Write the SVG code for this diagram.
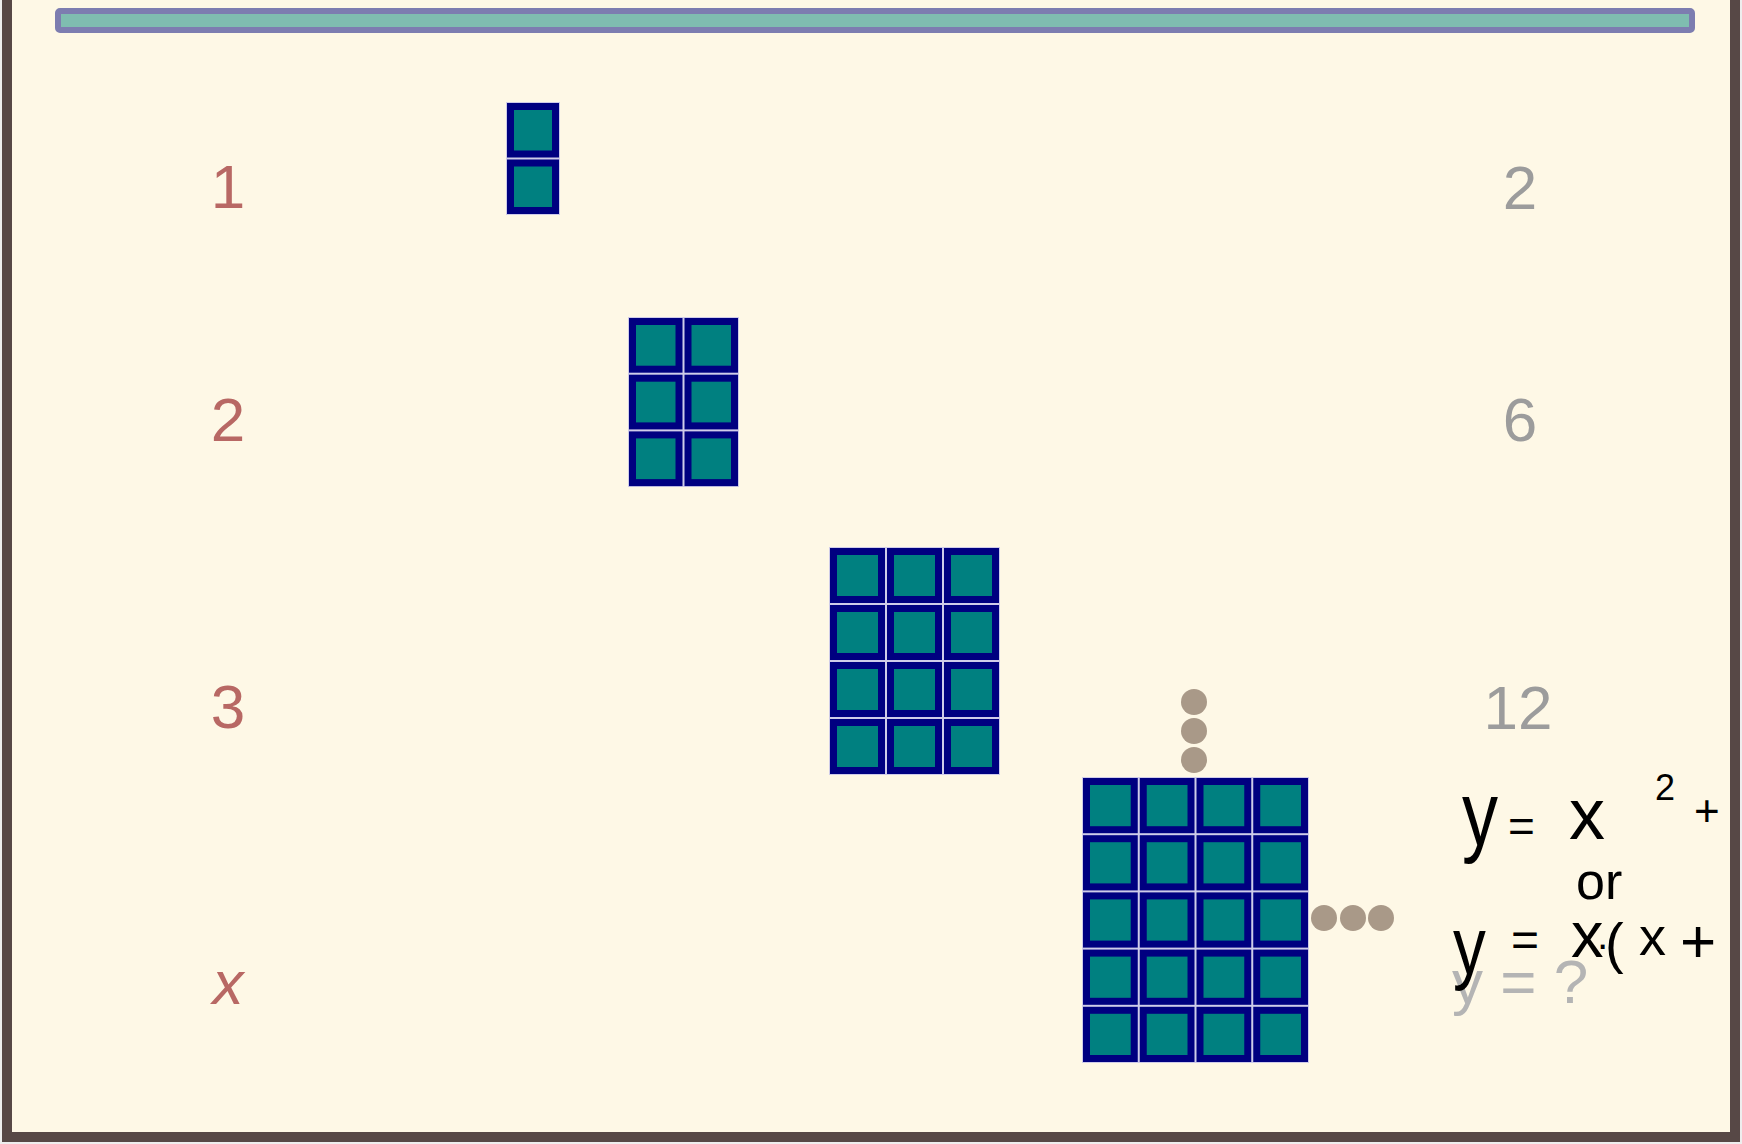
<svg xmlns="http://www.w3.org/2000/svg" width="1742" height="1144" viewBox="0 0 1742 1144">
<style>
.c{fill:#008080;stroke:#000080;stroke-width:7}
.halo{fill:#cfcce9}
.dot{fill:#a99988}
.lab{font-family:"Liberation Sans",Arial,sans-serif;font-size:62px;fill:#b86864;text-anchor:middle}
.rl{font-family:"Liberation Sans",Arial,sans-serif;font-size:62px;fill:#9c9c9c;text-anchor:middle}
.hw{font-family:"Liberation Sans",Arial,sans-serif;fill:#000}
</style>
<rect x="0" y="0" width="1742" height="1144" fill="#eeeeee"/>
<rect id="frame" x="7" y="-20" width="1728" height="1157" fill="#fef8e6" stroke="#574846" stroke-width="10"/>
<rect id="topbar" x="58" y="11" width="1634" height="19" rx="2" fill="#7fbdb0" stroke="#7d7db0" stroke-width="6"/>

<g id="labels-left">
<text class="lab" x="228" y="208">1</text>
<text class="lab" x="228" y="441">2</text>
<text class="lab" x="228" y="728">3</text>
<text class="lab" x="228" y="1004" font-style="italic">x</text>
</g>
<g id="labels-right">
<text class="rl" x="1520" y="209">2</text>
<text class="rl" x="1520" y="441">6</text>
<text class="rl" x="1518" y="729">12</text>
<text class="rl" x="1452" y="1003" style="text-anchor:start;fill:#b4b4b4">y = ?</text>
</g>

<g id="fig1" transform="translate(506,102)">
<rect class="halo" x="0" y="0" width="54" height="113"/>
<rect class="c" x="4.5" y="4.5" width="45" height="47.5"/>
<rect class="c" x="4.5" y="61" width="45" height="47.5"/>
</g>

<g id="fig2" transform="translate(628,317)">
<rect class="halo" x="0" y="0" width="111" height="170"/>
<rect class="c" x="4.5" y="4.5" width="46.5" height="47.7"/>
<rect class="c" x="60" y="4.5" width="46.5" height="47.7"/>
<rect class="c" x="4.5" y="61.2" width="46.5" height="47.7"/>
<rect class="c" x="60" y="61.2" width="46.5" height="47.7"/>
<rect class="c" x="4.5" y="117.9" width="46.5" height="47.7"/>
<rect class="c" x="60" y="117.9" width="46.5" height="47.7"/>
</g>

<g id="fig3" transform="translate(829,547)">
<rect class="halo" x="0" y="0" width="171" height="228"/>
<rect class="c" x="4.5" y="4.5" width="48" height="48"/>
<rect class="c" x="61.5" y="4.5" width="48" height="48"/>
<rect class="c" x="118.5" y="4.5" width="48" height="48"/>
<rect class="c" x="4.5" y="61.5" width="48" height="48"/>
<rect class="c" x="61.5" y="61.5" width="48" height="48"/>
<rect class="c" x="118.5" y="61.5" width="48" height="48"/>
<rect class="c" x="4.5" y="118.5" width="48" height="48"/>
<rect class="c" x="61.5" y="118.5" width="48" height="48"/>
<rect class="c" x="118.5" y="118.5" width="48" height="48"/>
<rect class="c" x="4.5" y="175.5" width="48" height="48"/>
<rect class="c" x="61.5" y="175.5" width="48" height="48"/>
<rect class="c" x="118.5" y="175.5" width="48" height="48"/>
</g>

<g id="fig4" transform="translate(1082,777)">
<rect class="halo" x="0" y="0" width="227" height="286"/>
<rect class="c" x="4.5" y="4.5" width="47.75" height="48.2"/>
<rect class="c" x="61.25" y="4.5" width="47.75" height="48.2"/>
<rect class="c" x="118" y="4.5" width="47.75" height="48.2"/>
<rect class="c" x="174.75" y="4.5" width="47.75" height="48.2"/>
<rect class="c" x="4.5" y="61.7" width="47.75" height="48.2"/>
<rect class="c" x="61.25" y="61.7" width="47.75" height="48.2"/>
<rect class="c" x="118" y="61.7" width="47.75" height="48.2"/>
<rect class="c" x="174.75" y="61.7" width="47.75" height="48.2"/>
<rect class="c" x="4.5" y="118.9" width="47.75" height="48.2"/>
<rect class="c" x="61.25" y="118.9" width="47.75" height="48.2"/>
<rect class="c" x="118" y="118.9" width="47.75" height="48.2"/>
<rect class="c" x="174.75" y="118.9" width="47.75" height="48.2"/>
<rect class="c" x="4.5" y="176.1" width="47.75" height="48.2"/>
<rect class="c" x="61.25" y="176.1" width="47.75" height="48.2"/>
<rect class="c" x="118" y="176.1" width="47.75" height="48.2"/>
<rect class="c" x="174.75" y="176.1" width="47.75" height="48.2"/>
<rect class="c" x="4.5" y="233.3" width="47.75" height="48.2"/>
<rect class="c" x="61.25" y="233.3" width="47.75" height="48.2"/>
<rect class="c" x="118" y="233.3" width="47.75" height="48.2"/>
<rect class="c" x="174.75" y="233.3" width="47.75" height="48.2"/>
</g>

<g id="dots-vertical">
<circle class="dot" cx="1194" cy="702" r="13"/>
<circle class="dot" cx="1194" cy="731" r="13"/>
<circle class="dot" cx="1194" cy="760" r="13"/>
</g>
<g id="dots-horizontal">
<circle class="dot" cx="1324" cy="918" r="13"/>
<circle class="dot" cx="1353" cy="918" r="13"/>
<circle class="dot" cx="1381" cy="918" r="13"/>
</g>

<g id="handwriting">
<text class="hw" transform="translate(1462,845) scale(0.8,1)" font-size="90">y</text>
<text class="hw" x="1508" y="842" font-size="46">=</text>
<text class="hw" x="1569" y="839" font-size="72">x</text>
<text class="hw" x="1655" y="800" font-size="36">2</text>
<text class="hw" x="1694" y="826" font-size="44">+</text>
<text class="hw" x="1576" y="899" font-size="52">or</text>
<text class="hw" transform="translate(1453,974) scale(0.8,1)" font-size="82">y</text>
<text class="hw" x="1511" y="956" font-size="48">=</text>
<text class="hw" x="1571" y="957" font-size="65">x</text>
<text class="hw" x="1596" y="958" font-size="40">·</text>
<text class="hw" x="1605" y="962" font-size="56">(</text>
<text class="hw" x="1639" y="955" font-size="54">x</text>
<text class="hw" x="1680" y="962" font-size="62">+</text>
</g>

<g id="connectors"/>
</svg>
